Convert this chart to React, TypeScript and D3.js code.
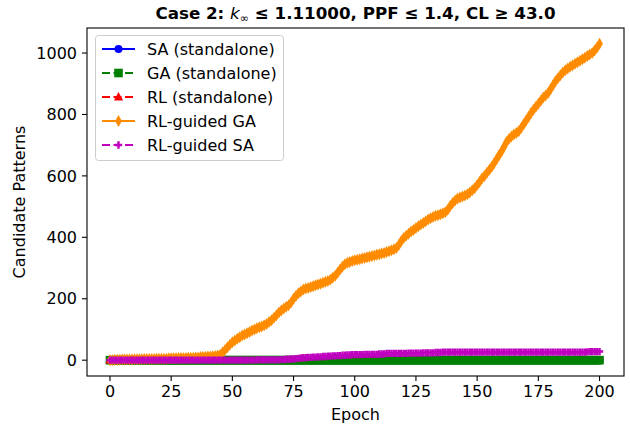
import * as d3 from "d3";

const epochs = d3.range(0, 201);

const rlGuidedGA = [
  0, 0, 1, 1, 1, 2, 2, 2, 2, 2,
  3, 3, 3, 3, 4, 4, 4, 4, 4, 5,
  5, 5, 5, 5, 6, 6, 6, 6, 7, 7,
  7, 7, 8, 8, 8, 9, 9, 10, 10, 11,
  12, 12, 13, 14, 15, 18, 25, 33, 42, 50,
  58, 64, 70, 75, 80, 84, 88, 92, 97, 100,
  104, 107, 110, 114, 118, 124, 130, 138, 146, 155,
  162, 168, 174, 179, 188, 200, 210, 218, 224, 230,
  233, 235, 238, 241, 244, 246, 249, 252, 255, 258,
  262, 268, 275, 285, 295, 305, 312, 317, 320, 323,
  325, 327, 329, 331, 333, 335, 337, 339, 341, 343,
  345, 347, 349, 352, 355, 358, 361, 365, 375, 388,
  398, 405, 412, 419, 424, 430, 436, 442, 447, 452,
  458, 462, 466, 470, 472, 475, 478, 482, 490, 502,
  512, 520, 526, 530, 533, 536, 540, 546, 553, 560,
  570, 580, 592, 600, 610, 620, 630, 642, 655, 668,
  680, 695, 710, 720, 728, 735, 740, 745, 756, 768,
  780, 792, 805, 815, 825, 835, 845, 855, 862, 870,
  882, 895, 908, 918, 928, 937, 944, 950, 955, 960,
  965, 970, 975, 980, 985, 990, 995, 1000, 1008, 1018,
  1030,
];

const rlGuidedSA = [
  0, 0, 0, 0, 0, 0, 0, 0, 0, 0,
  0, 0, 0, 0, 0, 0, 0, 0, 0, 0,
  0, 0, 0, 0, 0, 0, 0, 0, 0, 0,
  0, 0, 0, 0, 0, 0, 0, 0, 0, 0,
  0, 0, 0, 0, 0, 0, 0, 0, 0, 0,
  0, 0, 0, 0, 0, 0, 0, 0, 0, 0,
  1, 1, 1, 1, 1, 1, 1, 1, 1, 1,
  2, 2, 3, 3, 4, 4, 5, 6, 7, 8,
  8, 9, 9, 10, 10, 11, 11, 12, 12, 13,
  13, 14, 14, 15, 15, 16, 16, 17, 17, 18,
  18, 18, 18, 18, 19, 19, 19, 19, 19, 19,
  20, 20, 20, 22, 22, 22, 22, 22, 22, 22,
  22, 22, 23, 23, 23, 23, 23, 23, 24, 24,
  24, 24, 24, 25, 25, 25, 26, 26, 26, 26,
  26, 26, 26, 26, 26, 26, 26, 26, 26, 26,
  26, 26, 26, 26, 26, 26, 26, 26, 26, 26,
  26, 26, 26, 26, 26, 26, 26, 26, 26, 26,
  26, 26, 26, 26, 26, 26, 26, 26, 26, 26,
  26, 26, 26, 26, 26, 26, 26, 26, 26, 26,
  26, 26, 26, 26, 26, 27, 28, 28, 28, 28,
  28,
];

const saStandalone = epochs.map(() => 0);
const gaStandalone = epochs.map(() => 0);
// RL on its own only logged the first few epochs
const rlStandalone = [0, 0, 0, 0, 0, 0, 0, 0, 0, 0, 0];

const xTicks = [0, 25, 50, 75, 100, 125, 150, 175, 200];
const yTicks = [0, 200, 400, 600, 800, 1000];

const series = [
  { name: "SA (standalone)", values: saStandalone, color: "#0000ff", dash: "", marker: "circle" },
  { name: "GA (standalone)", values: gaStandalone, color: "#008000", dash: "8,3.5", marker: "square" },
  { name: "RL (standalone)", values: rlStandalone, color: "#ff0000", dash: "8,3.5", marker: "triangle" },
  { name: "RL-guided GA", values: rlGuidedGA, color: "#ff8c00", dash: "", marker: "diamond" },
  { name: "RL-guided SA", values: rlGuidedSA, color: "#bf00bf", dash: "8,3.5", marker: "plus" },
];

const W = 630;
const H = 428;
const left = 87;
const right = 624;
const top = 28;
const bottom = 376;
const font = "DejaVu Sans, sans-serif";
const fs = 16;

function Marker({ kind, x, y, color }: { kind: string; x: number; y: number; color: string }) {
  if (kind === "circle") return <circle cx={x} cy={y} r={4} fill={color} />;
  if (kind === "square") return <rect x={x - 4.3} y={y - 4.3} width={8.6} height={8.6} fill={color} />;
  if (kind === "triangle")
    return <path d={`M${x},${y - 5}L${x + 4.6},${y + 3.4}L${x - 4.6},${y + 3.4}Z`} fill={color} />;
  if (kind === "diamond")
    return <path d={`M${x},${y - 6}L${x + 3.4},${y}L${x},${y + 6}L${x - 3.4},${y}Z`} fill={color} />;
  const plus = d3.symbol(d3.symbolCross, 30)();
  return <path d={plus || ""} transform={`translate(${x},${y})`} fill={color} />;
}

export default function App() {
  const x = d3.scaleLinear().domain([-10, 210]).range([left - 1.5, right]);
  const y = d3.scaleLinear().domain([-51.5, 1081.5]).range([bottom, top]);
  const line = d3
    .line<number>()
    .x((_, i) => x(epochs[i]))
    .y((d) => y(d));

  const legendRows = [49, 73, 97, 121, 145];

  return (
    <svg
      width={W}
      height={H}
      style={{ position: "absolute", left: 0, top: 0, background: "#fff" }}
      fontFamily={font}
    >
      <rect width={W} height={H} fill="#fff" />
      <defs>
        <clipPath id="plot">
          <rect x={left} y={top} width={right - left} height={bottom - top} />
        </clipPath>
      </defs>

      <g clipPath="url(#plot)">
        {series.map((s) => (
          <g key={s.name}>
            <path d={line(s.values) || ""} fill="none" stroke={s.color} strokeWidth={2} strokeDasharray={s.dash} />
            {s.values.map((v, i) => (
              <Marker key={i} kind={s.marker} x={x(epochs[i])} y={y(v)} color={s.color} />
            ))}
          </g>
        ))}
      </g>

      {/* frame */}
      <rect x={left} y={top} width={right - left} height={bottom - top} fill="none" stroke="#000" strokeWidth={1.1} />

      {/* x axis */}
      {xTicks.map((t) => (
        <g key={t} transform={`translate(${x(t)},${bottom})`}>
          <line y2={5} stroke="#000" strokeWidth={1.1} />
          <text y={21} textAnchor="middle" fontSize={fs} fill="#000">
            {t}
          </text>
        </g>
      ))}
      {/* y axis */}
      {yTicks.map((t) => (
        <g key={t} transform={`translate(${left},${y(t)})`}>
          <line x2={-5} stroke="#000" strokeWidth={1.1} />
          <text x={-10} dy="0.35em" textAnchor="end" fontSize={fs} fill="#000">
            {t}
          </text>
        </g>
      ))}

      <text x={(left + right) / 2} y={420} textAnchor="middle" fontSize={fs}>
        Epoch
      </text>
      <text
        transform={`translate(25,${(top + bottom) / 2}) rotate(-90)`}
        textAnchor="middle"
        fontSize={fs}
      >
        Candidate Patterns
      </text>

      <text x={(left + right) / 2} y={19} textAnchor="middle" fontSize={16.7} fontWeight="bold">
        <tspan>Case 2: </tspan>
        <tspan fontStyle="italic" fontWeight="normal">k</tspan>
        <tspan fontWeight="normal" fontSize={11} dy={3}>∞</tspan>
        <tspan dy={-3}>{" ≤ 1.11000, PPF ≤ 1.4, CL ≥ 43.0"}</tspan>
      </text>

      {/* legend */}
      <rect x={95.5} y={35.5} width={188} height={125} rx={3} fill="#fff" fillOpacity={0.8} stroke="#cccccc" />
      {series.map((s, i) => (
        <g key={s.name}>
          <line
            x1={102}
            x2={135}
            y1={legendRows[i]}
            y2={legendRows[i]}
            stroke={s.color}
            strokeWidth={2}
            strokeDasharray={s.dash}
          />
          <Marker kind={s.marker} x={118.5} y={legendRows[i]} color={s.color} />
          <text x={147} y={legendRows[i]} dy="0.35em" fontSize={fs} fill="#000">
            {s.name}
          </text>
        </g>
      ))}
    </svg>
  );
}
